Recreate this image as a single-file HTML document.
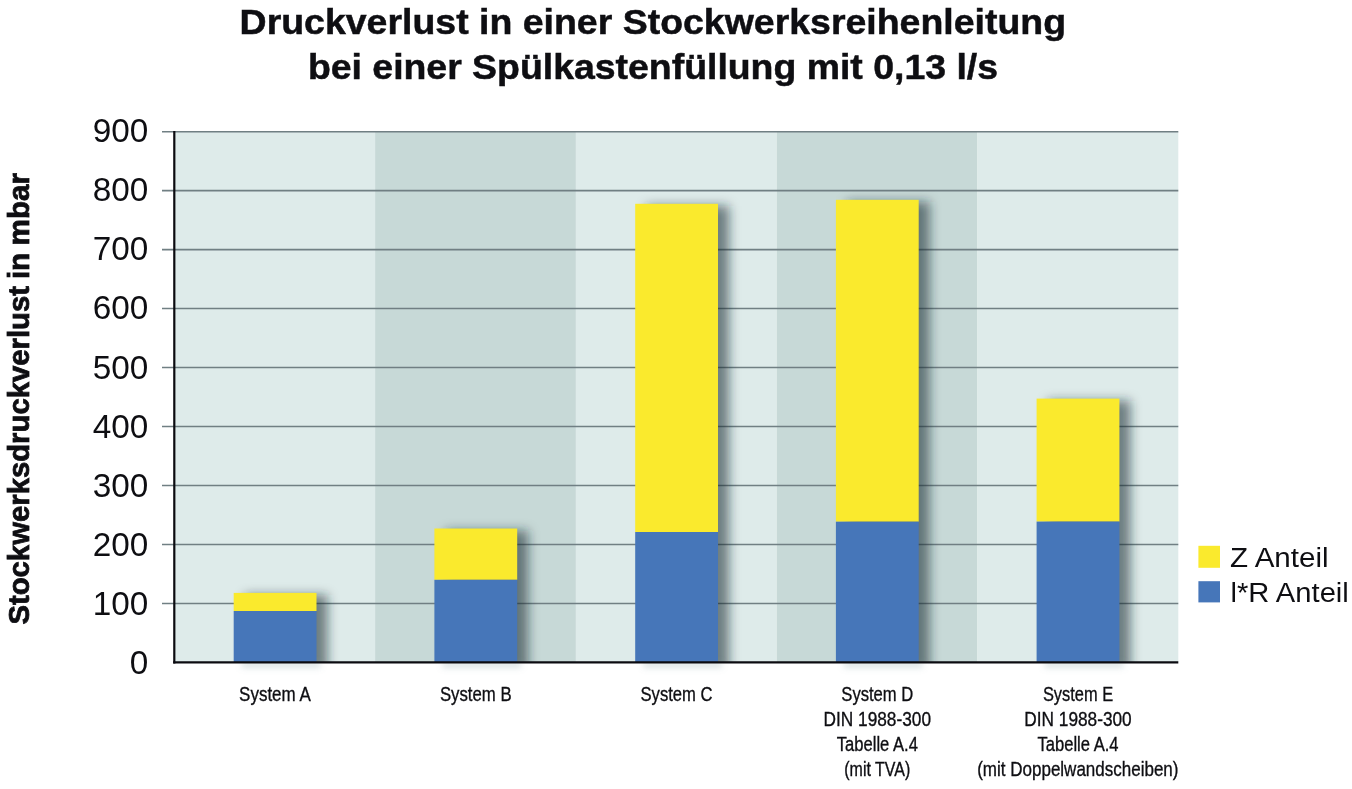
<!DOCTYPE html>
<html lang="de">
<head>
<meta charset="utf-8">
<title>Druckverlust in einer Stockwerksreihenleitung</title>
<style>
html,body{margin:0;padding:0;background:#fff;}
body{width:1352px;height:789px;overflow:hidden;}
svg{display:block;}
text{font-family:"Liberation Sans",Arial,Helvetica,sans-serif;fill:#0e0e12;}
.b{font-weight:bold;stroke:#0e0e12;stroke-width:0.5px;}
.yt{stroke-width:0.8px;}
.c{stroke:#0e0e12;stroke-width:0.35px;}
</style>
</head>
<body>
<svg width="1352" height="789" viewBox="0 0 1352 789">
<defs>
<filter id="sh" x="-50%" y="-20%" width="200%" height="140%" filterUnits="objectBoundingBox"><feGaussianBlur stdDeviation="5.4"/></filter>
<filter id="gl" x="-50%" y="-300%" width="200%" height="700%"><feGaussianBlur stdDeviation="3"/></filter>
<clipPath id="plot"><rect x="174.3" y="130.7" width="1004.0" height="531.7"/></clipPath>
</defs>
<rect width="1352" height="789" fill="#ffffff"/>
<rect x="174.30" y="131.67" width="200.80" height="530.73" fill="#deebea"/>
<rect x="375.10" y="131.67" width="200.80" height="530.73" fill="#c7d9d7"/>
<rect x="575.90" y="131.67" width="200.80" height="530.73" fill="#deebea"/>
<rect x="776.70" y="131.67" width="200.80" height="530.73" fill="#c7d9d7"/>
<rect x="977.50" y="131.67" width="200.80" height="530.73" fill="#deebea"/>
<line x1="162" x2="1178.3" y1="603.43" y2="603.43" stroke="#707f83" stroke-width="1.55"/>
<line x1="162" x2="1178.3" y1="544.46" y2="544.46" stroke="#707f83" stroke-width="1.55"/>
<line x1="162" x2="1178.3" y1="485.49" y2="485.49" stroke="#707f83" stroke-width="1.55"/>
<line x1="162" x2="1178.3" y1="426.52" y2="426.52" stroke="#707f83" stroke-width="1.55"/>
<line x1="162" x2="1178.3" y1="367.55" y2="367.55" stroke="#707f83" stroke-width="1.55"/>
<line x1="162" x2="1178.3" y1="308.58" y2="308.58" stroke="#707f83" stroke-width="1.55"/>
<line x1="162" x2="1178.3" y1="249.61" y2="249.61" stroke="#707f83" stroke-width="1.55"/>
<line x1="162" x2="1178.3" y1="190.64" y2="190.64" stroke="#707f83" stroke-width="1.55"/>
<line x1="162" x2="1178.3" y1="131.67" y2="131.67" stroke="#707f83" stroke-width="1.55"/>
<g clip-path="url(#plot)">
<rect x="244.7" y="594.9" width="82.8" height="109.5" fill="#122a30" fill-opacity="0.56" filter="url(#sh)"/>
<rect x="445.4" y="530.5" width="82.8" height="173.9" fill="#122a30" fill-opacity="0.56" filter="url(#sh)"/>
<rect x="646.2" y="205.8" width="82.8" height="498.6" fill="#122a30" fill-opacity="0.56" filter="url(#sh)"/>
<rect x="846.9" y="201.8" width="82.8" height="502.6" fill="#122a30" fill-opacity="0.56" filter="url(#sh)"/>
<rect x="1047.6" y="400.6" width="82.8" height="303.8" fill="#122a30" fill-opacity="0.56" filter="url(#sh)"/>
</g>
<rect x="241.7" y="662.4" width="78.8" height="5" fill="#7f9aa0" fill-opacity="0.35" filter="url(#gl)"/>
<rect x="442.4" y="662.4" width="78.8" height="5" fill="#7f9aa0" fill-opacity="0.35" filter="url(#gl)"/>
<rect x="643.2" y="662.4" width="78.8" height="5" fill="#7f9aa0" fill-opacity="0.35" filter="url(#gl)"/>
<rect x="843.9" y="662.4" width="78.8" height="5" fill="#7f9aa0" fill-opacity="0.35" filter="url(#gl)"/>
<rect x="1044.6" y="662.4" width="78.8" height="5" fill="#7f9aa0" fill-opacity="0.35" filter="url(#gl)"/>
<rect x="233.7" y="592.9" width="82.8" height="18.1" fill="#faea2d"/>
<rect x="233.7" y="611.0" width="82.8" height="51.4" fill="#4676b9"/>
<rect x="434.4" y="528.5" width="82.8" height="51.3" fill="#faea2d"/>
<rect x="434.4" y="579.8" width="82.8" height="82.6" fill="#4676b9"/>
<rect x="635.2" y="203.8" width="82.8" height="328.2" fill="#faea2d"/>
<rect x="635.2" y="532.0" width="82.8" height="130.4" fill="#4676b9"/>
<rect x="835.9" y="199.8" width="82.8" height="321.9" fill="#faea2d"/>
<rect x="835.9" y="521.7" width="82.8" height="140.7" fill="#4676b9"/>
<rect x="1036.6" y="398.6" width="82.8" height="123.0" fill="#faea2d"/>
<rect x="1036.6" y="521.6" width="82.8" height="140.8" fill="#4676b9"/>
<line x1="174.3" x2="174.3" y1="130.9" y2="663.5" stroke="#0b0b10" stroke-width="2.2"/>
<line x1="173.2" x2="1178.3" y1="662.4" y2="662.4" stroke="#0b0b10" stroke-width="2.2"/>
<text x="148.3" y="673.9" font-size="33.3" text-anchor="end">0</text>
<text x="148.3" y="614.8" font-size="33.3" text-anchor="end">100</text>
<text x="148.3" y="555.7" font-size="33.3" text-anchor="end">200</text>
<text x="148.3" y="496.7" font-size="33.3" text-anchor="end">300</text>
<text x="148.3" y="437.6" font-size="33.3" text-anchor="end">400</text>
<text x="148.3" y="378.5" font-size="33.3" text-anchor="end">500</text>
<text x="148.3" y="319.4" font-size="33.3" text-anchor="end">600</text>
<text x="148.3" y="260.3" font-size="33.3" text-anchor="end">700</text>
<text x="148.3" y="201.3" font-size="33.3" text-anchor="end">800</text>
<text x="148.3" y="142.2" font-size="33.3" text-anchor="end">900</text>
<text class="b" x="239.6" y="34.3" font-size="35.6" textLength="826.5" lengthAdjust="spacingAndGlyphs">Druckverlust in einer Stockwerksreihenleitung</text>
<text class="b" x="307.9" y="79.4" font-size="35.6" textLength="690.1" lengthAdjust="spacingAndGlyphs">bei einer Spülkastenfüllung mit 0,13 l/s</text>
<g transform="translate(29.4 624) rotate(-90)">
<text class="b yt" x="-0.6" y="0" font-size="29.6" textLength="338.6" lengthAdjust="spacingAndGlyphs">Stockwerksdruckverlust</text>
<text class="b yt" x="344.9" y="0" font-size="29.6">in</text>
<text class="b yt" x="378.6" y="0" font-size="29.6">mbar</text>
</g>
<text class="c" x="239.1" y="701.4" font-size="20.5" textLength="71.7" lengthAdjust="spacingAndGlyphs">System A</text>
<text class="c" x="439.9" y="701.4" font-size="20.5" textLength="71.7" lengthAdjust="spacingAndGlyphs">System B</text>
<text class="c" x="640.5" y="701.4" font-size="20.5" textLength="72.0" lengthAdjust="spacingAndGlyphs">System C</text>
<text class="c" x="841.3" y="701.2" font-size="20.5" textLength="72.0" lengthAdjust="spacingAndGlyphs">System D</text>
<text class="c" x="823.6" y="726.4" font-size="20.5" textLength="107.4" lengthAdjust="spacingAndGlyphs">DIN 1988-300</text>
<text class="c" x="836.8" y="751.3" font-size="20.5" textLength="81.1" lengthAdjust="spacingAndGlyphs">Tabelle A.4</text>
<text class="c" x="1042.9" y="701.2" font-size="20.5" textLength="70.2" lengthAdjust="spacingAndGlyphs">System E</text>
<text class="c" x="1024.3" y="726.4" font-size="20.5" textLength="107.4" lengthAdjust="spacingAndGlyphs">DIN 1988-300</text>
<text class="c" x="1037.5" y="751.3" font-size="20.5" textLength="81.1" lengthAdjust="spacingAndGlyphs">Tabelle A.4</text>
<text class="c" x="844.3" y="776.2" font-size="20.5" textLength="66.0" lengthAdjust="spacingAndGlyphs">(mit TVA)</text>
<text class="c" x="977.2" y="776.2" font-size="20.5" textLength="201.3" lengthAdjust="spacingAndGlyphs">(mit Doppelwandscheiben)</text>
<rect x="1198.4" y="545.8" width="21.6" height="22" fill="#faea2d"/>
<rect x="1198.4" y="581.2" width="21.6" height="21.2" fill="#4676b9"/>
<text x="1230" y="567.4" font-size="28.2" textLength="98.6" lengthAdjust="spacingAndGlyphs">Z Anteil</text>
<text x="1230.5" y="602.2" font-size="28.2" textLength="118.3" lengthAdjust="spacingAndGlyphs">l*R Anteil</text>
</svg>
</body>
</html>
